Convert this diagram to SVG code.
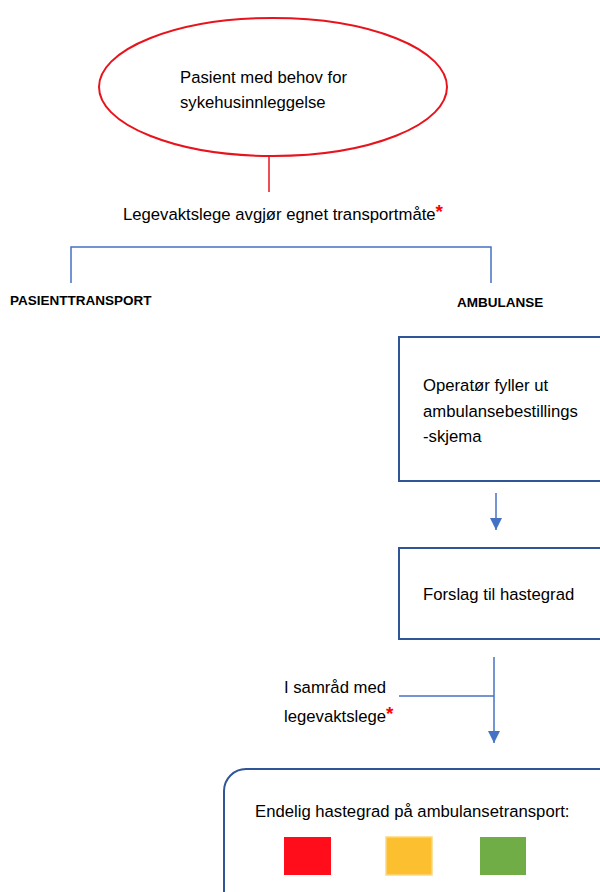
<svg xmlns="http://www.w3.org/2000/svg" width="600" height="892" viewBox="0 0 600 892">
<defs>
<style>
.t{font-family:"Liberation Sans",Arial,sans-serif;font-size:16.7px;fill:#000}
.b{font-family:"Liberation Sans",Arial,sans-serif;font-size:13.5px;font-weight:bold;fill:#000}
.ast{fill:#ff0000;font-weight:bold;font-size:19px}
.box{fill:#fff;stroke:#2f5597;stroke-width:2}
.con{fill:none;stroke:#4472c4;stroke-width:1.5}
</style>
<marker id="arr2" viewBox="0 0 10 10" refX="10" refY="5" markerWidth="12" markerHeight="12" orient="auto" markerUnits="userSpaceOnUse">
<path d="M0,0 L10,5 L0,10 z" fill="#4472c4"/>
</marker>
</defs>
<rect width="600" height="892" fill="#fff"/>
<g id="connectors">
<line x1="269" y1="156" x2="269" y2="192" stroke="#e8141d" stroke-width="1.5"/>
<polyline class="con" points="71,283 71,247 491,247 491,283"/>
<line class="con" x1="496" y1="493" x2="496" y2="530" marker-end="url(#arr2)"/>
<line class="con" x1="494" y1="657" x2="494" y2="743" marker-end="url(#arr2)"/>
<line class="con" x1="399" y1="696" x2="494" y2="696"/>
</g>
<g id="start">
<ellipse cx="273" cy="87" rx="174" ry="69" fill="#fff" stroke="#e8141d" stroke-width="2"/>
<text class="t" x="180" y="83">Pasient med behov for</text>
<text class="t" x="180" y="108">sykehusinnleggelse</text>
</g>
<g id="decision">
<text class="t" x="123" y="220">Legevaktslege avgjør egnet transportmåte<tspan class="ast" dy="-2">*</tspan></text>
</g>
<g id="pasienttransport">
<text class="b" x="10" y="305">PASIENTTRANSPORT</text>
</g>
<g id="ambulanse">
<text class="b" x="457" y="307">AMBULANSE</text>
</g>
<g id="operator">
<rect class="box" x="399" y="337" width="215" height="144"/>
<text class="t" x="423" y="391">Operatør fyller ut</text>
<text class="t" x="423" y="417">ambulansebestillings</text>
<text class="t" x="423" y="442">-skjema</text>
</g>
<g id="forslag">
<rect class="box" x="399" y="548" width="215" height="91"/>
<text class="t" x="423" y="600">Forslag til hastegrad</text>
</g>
<g id="samraad">
<text class="t" x="284" y="693">I samråd med</text>
<text class="t" x="284" y="722">legevaktslege<tspan class="ast" dy="-2">*</tspan></text>
</g>
<g id="endelig">
<rect class="box" x="224" y="769" width="400" height="150" rx="22"/>
<text class="t" x="255" y="817">Endelig hastegrad på ambulansetransport:</text>
<rect x="284" y="837" width="47" height="38" fill="#ff0d1a"/>
<rect x="386" y="837" width="46" height="38" fill="#fcbf2f" stroke="#fdd77f" stroke-width="1.5"/>
<rect x="480" y="837" width="46" height="38" fill="#70ad47"/>
</g>
</svg>
